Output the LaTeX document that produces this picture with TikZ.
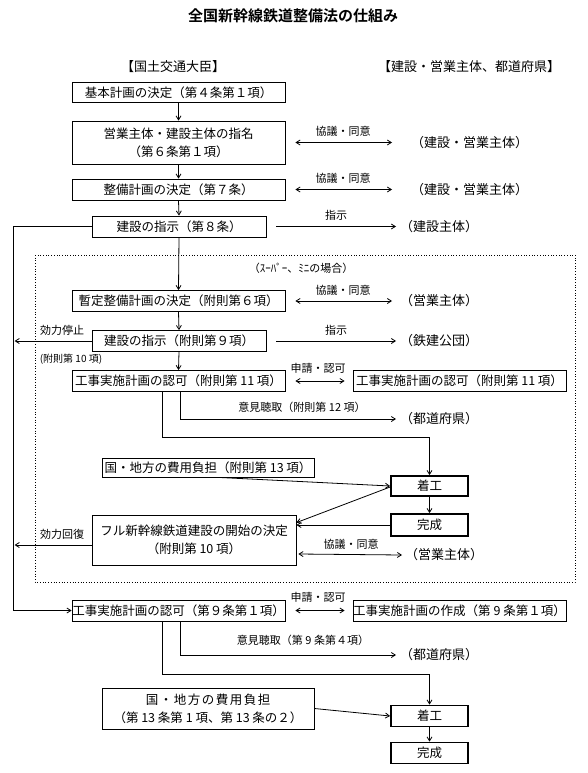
\documentclass[tikz,border=0pt]{standalone}
\usepackage{fontspec}
\setmainfont{Noto Sans CJK JP}[BoldFont={Noto Sans CJK JP Bold}]
\usetikzlibrary{arrows.meta,calc}
\begin{document}
\begin{tikzpicture}[x=1pt,y=-1pt,
  >={Straight Barb[length=4pt,width=5pt]},
  box/.style={draw, line width=0.8pt, inner sep=0pt, align=center, minimum width=213pt, minimum height=21pt, font=\fontsize{12.5}{18}\selectfont},
  sbox/.style={box, minimum width=174pt},
  tbox/.style={box, line width=1.8pt, minimum width=77pt},
  lab/.style={inner sep=0pt, font=\fontsize{11}{13}\selectfont},
  rlab/.style={inner sep=0pt, anchor=west, font=\fontsize{13}{15}\selectfont},
  con/.style={line width=0.8pt},
]
\useasboundingbox (0,0) rectangle (587,773);
\fill[white] (0,0) rectangle (587,773);

\node[inner sep=0pt, font=\fontsize{15}{17}\selectfont\bfseries] (title) at (293,16) {全国新幹線鉄道整備法の仕組み};
\node[rlab, anchor=center] (hl) at (173,67) {【国土交通大臣】};
\node[rlab, anchor=center] (hr) at (469,67) {【建設・営業主体、都道府県】};

% upper chain
\node[box, minimum height=20pt] (b1) at (178.5,92.5) {基本計画の決定（第４条第１項）};
\node[box, minimum height=43pt] (b2) at (178.5,142.5) {営業主体・建設主体の指名\\（第６条第１項）};
\node[box] (b3) at (178.5,189.5) {整備計画の決定（第７条）};
\node[sbox] (b4) at (179,226.5) {建設の指示（第８条）};

\node[rlab] (r2) at (411,142.5) {（建設・営業主体）};
\node[rlab] (r3) at (411,189.5) {（建設・営業主体）};
\node[rlab] (r4) at (400,226.5) {（建設主体）};
\node[lab] (k2) at (343,131) {協議・同意};
\node[lab] (k3) at (343,178) {協議・同意};
\node[lab] (i4) at (336,215) {指示};

% dotted frame
\draw[dotted, line width=0.7pt] (35,255) rectangle (575,582);
\node[lab] (sup) at (301,268) {（ｽｰﾊﾟｰ、ﾐﾆの場合）};

\node[box] (b5) at (178.5,301) {暫定整備計画の決定（附則第６項）};
\node[sbox] (b6) at (179,341) {建設の指示（附則第９項）};
\node[box] (b7) at (178.5,381) {工事実施計画の認可（附則第 11 項）};
\node[box] (b7r) at (459.5,381) {工事実施計画の認可（附則第 11 項）};

\node[rlab] (r5) at (400,301) {（営業主体）};
\node[rlab] (r6) at (400,341) {（鉄建公団）};
\node[rlab] (r7) at (400,419) {（都道府県）};
\node[lab] (k5) at (343,290) {協議・同意};
\node[lab] (i6) at (336,330) {指示};
\node[lab] (st) at (62,330) {効力停止};
\node[lab, font=\fontsize{10}{12}\selectfont] (fs10) at (71,359) {(附則第 10 項)};
\node[lab] (a7) at (318,368) {申請・認可};
\node[lab] (o7) at (302,407) {意見聴取（附則第 12 項）};

\node[box, minimum width=212pt, minimum height=19pt] (cost1) at (208,467.5) {国・地方の費用負担（附則第 13 項）};
\node[tbox, minimum height=20pt] (s1) at (429.5,486) {着工};
\node[tbox, minimum height=22pt] (d1) at (429.5,525) {完成};
\node[box, minimum width=204pt, minimum height=50pt] (full) at (194,540) {フル新幹線鉄道建設の開始の決定\\（附則第 10 項）};
\node[lab] (rc) at (62,534) {効力回復};
\node[lab] (kf) at (351,544) {協議・同意};
\node[rlab] (rf) at (405,555) {（営業主体）};

\coordinate (j1) at (162,437);

% bottom part
\node[box] (b8) at (178.5,610.5) {工事実施計画の認可（第９条第１項）};
\node[box] (b8r) at (459.5,610.5) {工事実施計画の作成（第 9 条第１項）};
\node[lab] (a8) at (318,597) {申請・認可};
\node[lab] (o8) at (303,640) {意見聴取（第 9 条第４項）};
\node[rlab] (r8) at (400,655) {（都道府県）};
\node[box, minimum width=212pt, minimum height=41pt] (cost2) at (208,708.5) {{\addfontfeature{LetterSpace=12}国・地方の費用負担}\\（第 13 条第 1 項、第 13 条の２）};
\node[tbox, minimum height=21pt] (s2) at (429.5,716) {着工};
\node[tbox, minimum height=21pt] (d2) at (429.5,753) {完成};
\coordinate (j2) at (162,674);

% connectors
\draw[con,->] (b1.south) -- (b2.north);
\draw[con,->] (b2.south) -- (b3.north);
\draw[con,->] (b3.south) -- (b4.north);
\draw[con,->] (b4.south) -- (b5.north);
\draw[con,->] (b5.south) -- (b6.north);
\draw[con,->] (b6.south) -- (b7.north);

\draw[con,<->] ($(b2.east)+(10,0)$) -- ($(r2.west)+(-19,0)$);
\draw[con,<->] ($(b3.east)+(10,0)$) -- ($(r3.west)+(-19,0)$);
\draw[con,->] ($(b4.east)+(10,0)$) -- ($(r4.west)+(-4,0)$);
\draw[con,<->] ($(b5.east)+(10,0)$) -- ($(r5.west)+(-8,0)$);
\draw[con,->] ($(b6.east)+(10,0)$) -- ($(r6.west)+(-4,0)$);
\draw[con,->] (b6.west) -- ++(-77,0);
\draw[con,<->] ($(b7.east)+(10,0)$) -- ($(b7r.west)+(-8,0)$);
\draw[con,->] ($(b7.south)+(1.5,0)$) |- ($(r7.west)+(-4,0)$);
\draw[con,->] (b7.south -| j1) -- (j1) -| (s1.north);

\draw[con,->] ($(cost1.south)+(10,0)$) -- (s1.west);
\draw[con,->] ($(s1.west)+(0,1)$) -- ($(full.north east)+(0,8)$);
\draw[con,->] (s1.south) -- (d1.north);
\draw[con,->] (d1.west) -- (d1.west -| full.east);
\draw[con,->] ($(full.west)+(0,5)$) -- ++(-77,0);
\draw[con,<->] ($(full.east)+(2,14)$) -- ($(rf.west)+(-3,0)$);

\draw[con,->] (b4.west) -- ++(-78,0) |- (b8.west);
\draw[con,<->] ($(b8.east)+(10,0)$) -- ($(b8r.west)+(-8,0)$);
\draw[con,->] ($(b8.south)+(1.5,0)$) |- ($(r8.west)+(-4,0)$);
\draw[con,->] (b8.south -| j2) -- (j2) -| (s2.north);
\draw[con,->] (cost2.east) -- (s2.west);
\draw[con,->] (s2.south) -- (d2.north);
\end{tikzpicture}
\end{document}
